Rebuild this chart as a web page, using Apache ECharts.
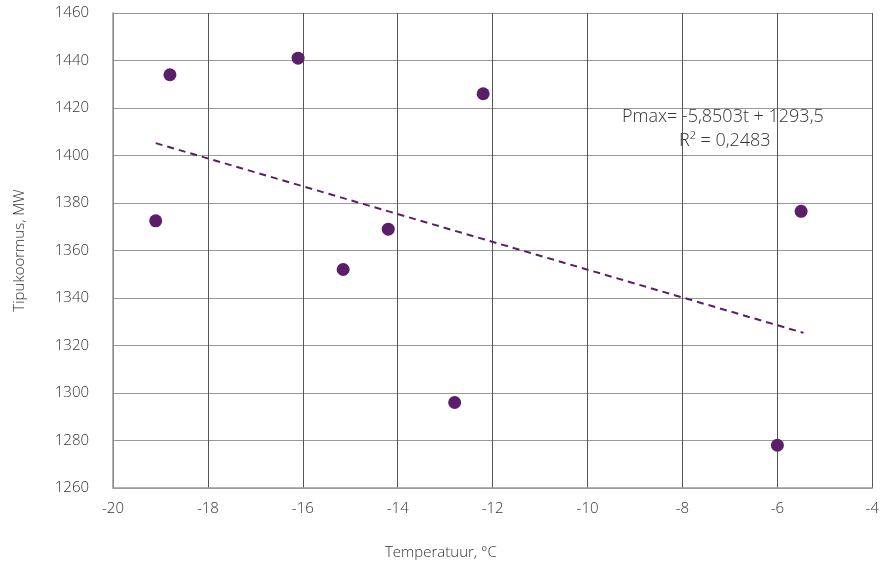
<!DOCTYPE html>
<html>
<head>
<meta charset="utf-8">
<script src="https://cdn.jsdelivr.net/npm/echarts@6/dist/echarts.min.js"></script>
<style>html,body{margin:0;padding:0;background:#fff}#c{width:882px;height:565px}</style>
</head>
<body>
<div id="c"></div>
<script>
var temperatures = [-19.1, -18.8, -16.1, -15.15, -14.2, -12.8, -12.2, -6.0, -5.5];
var peakLoads = [1372.5, 1434, 1441, 1352, 1369, 1296, 1426, 1278, 1376.5];
var trendX = [-19.1, -5.45];
var trendY = [1405.2, 1325.3];
var xTicks = [-20, -18, -16, -14, -12, -10, -8, -6, -4];
var yTicks = [1260, 1280, 1300, 1320, 1340, 1360, 1380, 1400, 1420, 1440, 1460];
var eqLine1 = 'Pmax= -5,8503t + 1293,5';
var eqLine2 = 'R² = 0,2483';
var xName = 'Temperatuur, °C';
var yName = 'Tipukoormus, MW';

var font = 'Open Sans';
var textColor = '#333';
var purple = '#5b1f69';

var chart = echarts.init(document.getElementById('c'), null, {renderer: 'canvas'});
chart.setOption({
  animation: false,
  textStyle: {fontFamily: font},
  grid: {left: 113, right: 3, top: 13, bottom: 77, containLabel: false},
  xAxis: {
    type: 'value', min: xTicks[0], max: xTicks[xTicks.length - 1], interval: 2,
    axisLine: {show: true, lineStyle: {color: '#999', width: 1.5}},
    axisTick: {show: false},
    axisLabel: {color: textColor, fontSize: 15, fontWeight: 300, fontFamily: font, margin: 13},
    splitLine: {show: true, lineStyle: {color: '#555', width: 1}}
  },
  yAxis: {
    type: 'value', min: yTicks[0], max: yTicks[yTicks.length - 1], interval: 20,
    name: yName, nameLocation: 'middle', nameGap: 86,
    nameTextStyle: {color: textColor, fontSize: 15, fontWeight: 300, fontFamily: font},
    axisLine: {show: true, lineStyle: {color: '#999', width: 1.5}},
    axisTick: {show: false},
    axisLabel: {color: textColor, fontSize: 15, fontWeight: 300, fontFamily: font, margin: 24,
      formatter: function (v) { return String(v); }},
    splitLine: {show: true, lineStyle: {color: '#999', width: 1}}
  },
  series: [
    {
      type: 'line',
      data: trendX.map(function (x, i) { return [x, trendY[i]]; }),
      showSymbol: false, symbol: 'none',
      lineStyle: {color: purple, width: 2, type: [7, 5]},
      z: 3
    },
    {
      type: 'scatter',
      data: temperatures.map(function (x, i) { return [x, peakLoads[i]]; }),
      symbolSize: 13,
      itemStyle: {color: purple, opacity: 1},
      z: 4
    }
  ],
  graphic: [
    {type: 'text', left: 385, top: 545, style: {text: xName, fill: textColor, fontSize: 15, fontWeight: 300, fontFamily: font}},
    {type: 'text', left: 622, top: 108, style: {text: eqLine1, fill: textColor, fontSize: 18, fontWeight: 300, fontFamily: font}},
    {type: 'text', left: 679, top: 132, style: {text: eqLine2, fill: textColor, fontSize: 18, fontWeight: 300, fontFamily: font}}
  ]
});
</script>
</body>
</html>
